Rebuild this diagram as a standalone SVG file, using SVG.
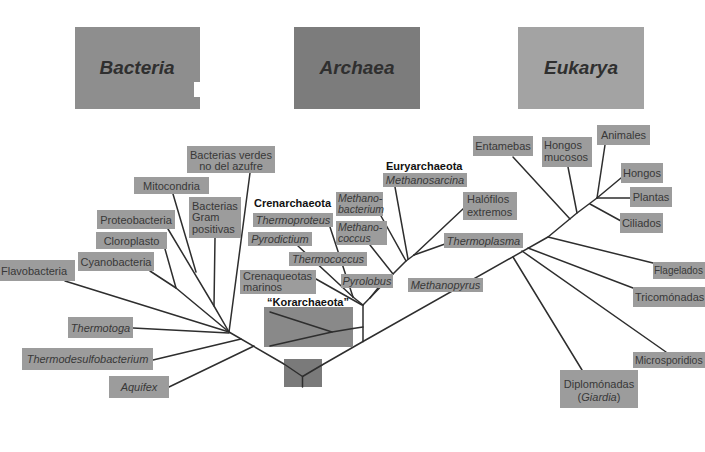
<svg xmlns="http://www.w3.org/2000/svg" width="705" height="452" viewBox="0 0 705 452">
<style>
text{font-family:"Liberation Sans",Arial,sans-serif;font-size:11px;fill:#383838}
.hd{font-size:19px;font-weight:bold;font-style:italic;fill:#2f2f2f;text-anchor:middle}
.lb{fill:#9c9c9c}
.c{text-anchor:middle}
.i{font-style:italic}
.s{font-size:10.5px}
.b{font-weight:bold;fill:#111}
.ln{fill:none;stroke:#2e2e2e;stroke-width:1.5;stroke-linecap:round;stroke-linejoin:round}
</style>
<rect width="705" height="452" fill="#ffffff"/>
<g id="headers">
<g id="h-bacteria"><rect x="75" y="27" width="125" height="82" fill="#8e8e8e"/><rect x="194" y="82" width="7" height="15" fill="#ffffff"/><text class="hd" x="137" y="74">Bacteria</text></g>
<g id="h-archaea"><rect x="294" y="27" width="126" height="82" fill="#7c7c7c"/><text class="hd" x="357" y="74">Archaea</text></g>
<g id="h-eukarya"><rect x="518" y="27" width="126" height="82" fill="#a3a3a3"/><text class="hd" x="581" y="74">Eukarya</text></g>
</g>
<g id="connectors" class="ln">
<polyline points="229,332 284,364"/>
<line x1="322" y1="365" x2="363" y2="341.5"/>
<polyline points="363,341.5 548,237 577,213 597,198"/>
<line x1="250" y1="173" x2="229" y2="332"/>
<line x1="173" y1="194" x2="196" y2="272"/>
<line x1="215" y1="238" x2="214" y2="306"/>
<polyline points="168,229 214,306 229,332"/>
<line x1="165" y1="249" x2="176" y2="288"/>
<polyline points="150,271 176,288 229,332"/>
<line x1="65" y1="281" x2="229" y2="332"/>
<line x1="133" y1="328" x2="229" y2="333"/>
<line x1="153" y1="360" x2="241" y2="339"/>
<line x1="169" y1="387" x2="254" y2="346"/>
<line x1="363" y1="341.5" x2="363" y2="305"/>
<line x1="363" y1="327" x2="353" y2="328.6"/>
<line x1="316" y1="279" x2="362" y2="305"/>
<line x1="330" y1="227" x2="353" y2="297"/>
<line x1="298" y1="246" x2="353" y2="297"/>
<line x1="353" y1="297" x2="363" y2="305"/>
<polyline points="363,305 393,274 406,261 414,255"/>
<line x1="378" y1="288" x2="370" y2="298"/>
<line x1="370" y1="245" x2="393" y2="274"/>
<line x1="381" y1="216" x2="406" y2="261"/>
<line x1="395" y1="187" x2="408" y2="259"/>
<line x1="464" y1="208" x2="414" y2="255"/>
<line x1="445" y1="244" x2="414" y2="255"/>
<line x1="513" y1="257" x2="582" y2="370"/>
<line x1="522" y1="251" x2="666" y2="352"/>
<line x1="528" y1="248" x2="633" y2="288"/>
<line x1="548" y1="237" x2="653" y2="263"/>
<line x1="513" y1="157" x2="570" y2="219"/>
<line x1="568" y1="167" x2="577" y2="213"/>
<line x1="590" y1="204" x2="621" y2="221"/>
<line x1="605" y1="145" x2="597" y2="198"/>
<line x1="621" y1="178" x2="597" y2="198"/>
<line x1="630" y1="198" x2="597" y2="198"/>
</g>
<g id="root"><rect x="284" y="359" width="38" height="28" fill="#7a7a7a"/><polyline class="ln" points="284,364 302.5,376.5 322,365"/><line class="ln" x1="302.5" y1="376.5" x2="302.5" y2="387"/></g>
<g id="korarchaeota"><text class="b c" x="308" y="306">“Korarchaeota”</text><rect x="264" y="307" width="89" height="40" fill="#898989"/><polyline class="ln" points="270,312 332,332 270,346"/><line class="ln" x1="332" y1="332" x2="353" y2="328.6"/></g>
<g id="n-verdes"><rect class="lb" x="187" y="146" width="88" height="27"/><text class="c" x="231" y="159">Bacterias verdes</text><text class="c" x="231" y="170">no del azufre</text></g>
<g id="n-mitocondria"><rect class="lb" x="134" y="177" width="75" height="17"/><text class="c" x="171.5" y="189.5">Mitocondria</text></g>
<g id="n-gram"><rect class="lb" x="189" y="197" width="52" height="41"/><text x="192" y="210">Bacterias</text><text x="192" y="221">Gram</text><text x="192" y="233">positivas</text></g>
<g id="n-proteo"><rect class="lb" x="97" y="210" width="78" height="19"/><text class="c" x="136" y="223.5">Proteobacteria</text></g>
<g id="n-cloro"><rect class="lb" x="96" y="232" width="71" height="17"/><text class="c" x="131.5" y="244.5">Cloroplasto</text></g>
<g id="n-cyano"><rect class="lb" x="78" y="252" width="76" height="19"/><text class="c" x="116" y="265.5">Cyanobacteria</text></g>
<g id="n-flavo"><rect class="lb" x="0" y="260" width="75" height="21"/><text x="1" y="274.5">Flavobacteria</text></g>
<g id="n-thermotoga"><rect class="lb" x="68" y="317" width="65" height="21"/><text class="c i" x="100.5" y="331.5">Thermotoga</text></g>
<g id="n-thermodesulfo"><rect class="lb" x="22" y="348" width="131" height="22"/><text class="c i" x="87.5" y="363">Thermodesulfobacterium</text></g>
<g id="n-aquifex"><rect class="lb" x="109" y="376" width="60" height="22"/><text class="c i" x="139" y="391">Aquifex</text></g>
<g id="n-crenarchaeota"><text class="b" x="254" y="207">Crenarchaeota</text></g>
<g id="n-thermoproteus"><rect class="lb" x="253" y="213" width="80" height="14"/><text class="c i" x="293" y="224">Thermoproteus</text></g>
<g id="n-pyrodictium"><rect class="lb" x="248" y="232" width="64" height="14"/><text class="c i" x="280" y="243">Pyrodictium</text></g>
<g id="n-thermococcus"><rect class="lb" x="289" y="252" width="78" height="14"/><text class="c i" x="328" y="263">Thermococcus</text></g>
<g id="n-crenaqueotas"><rect class="lb" x="240" y="270" width="76" height="24"/><text x="243" y="280">Crenaqueotas</text><text x="243" y="291">marinos</text></g>
<g id="n-pyrolobus"><rect class="lb" x="341" y="274" width="52" height="14"/><text class="c i" x="367" y="285">Pyrolobus</text></g>
<g id="n-methanobacterium"><rect class="lb" x="336" y="192" width="47" height="24"/><text class="i s" x="338" y="202">Methano-</text><text class="i s" x="338" y="213">bacterium</text></g>
<g id="n-methanococcus"><rect class="lb" x="336" y="221" width="51" height="24"/><text class="i s" x="338" y="231">Methano-</text><text class="i s" x="338" y="242">coccus</text></g>
<g id="n-euryarchaeota"><text class="b" x="386" y="170">Euryarchaeota</text></g>
<g id="n-methanosarcina"><rect class="lb" x="383" y="173" width="84" height="14"/><text class="c i" x="425" y="184">Methanosarcina</text></g>
<g id="n-halofilos"><rect class="lb" x="463" y="192" width="54" height="28"/><text x="467" y="203">Halófilos</text><text x="467" y="216">extremos</text></g>
<g id="n-thermoplasma"><rect class="lb" x="444" y="233" width="79" height="15"/><text class="c i" x="483.5" y="244.5">Thermoplasma</text></g>
<g id="n-methanopyrus"><rect class="lb" x="408" y="278" width="75" height="14"/><text class="c i" x="445.5" y="289">Methanopyrus</text></g>
<g id="n-entamebas"><rect class="lb" x="473" y="136" width="60" height="20"/><text class="c" x="503" y="150">Entamebas</text></g>
<g id="n-hongosmucosos"><rect class="lb" x="542" y="137" width="50" height="30"/><text x="544" y="149">Hongos</text><text x="544" y="161">mucosos</text></g>
<g id="n-animales"><rect class="lb" x="597" y="125" width="53" height="20"/><text class="c" x="623.5" y="139">Animales</text></g>
<g id="n-hongos"><rect class="lb" x="621" y="163" width="42" height="20"/><text class="c" x="642" y="177">Hongos</text></g>
<g id="n-plantas"><rect class="lb" x="630" y="187" width="42" height="20"/><text class="c" x="651" y="201">Plantas</text></g>
<g id="n-ciliados"><rect class="lb" x="620" y="213" width="43" height="20"/><text class="c" x="641.5" y="227">Ciliados</text></g>
<g id="n-flagelados"><rect class="lb" x="653" y="262" width="52" height="17"/><text x="654" y="274" style="font-size:10px">Flagelados</text></g>
<g id="n-tricomonadas"><rect class="lb" x="633" y="287" width="72" height="20"/><text x="635" y="301">Tricomónadas</text></g>
<g id="n-microsporidios"><rect class="lb" x="633" y="352" width="72" height="16"/><text x="635" y="364" class="s">Microsporidios</text></g>
<g id="n-diplomonadas"><rect class="lb" x="560" y="370" width="78" height="38"/><text class="c" x="599" y="388">Diplomónadas</text><text class="c" x="599" y="401">(<tspan class="i">Giardia</tspan>)</text></g>
</svg>
